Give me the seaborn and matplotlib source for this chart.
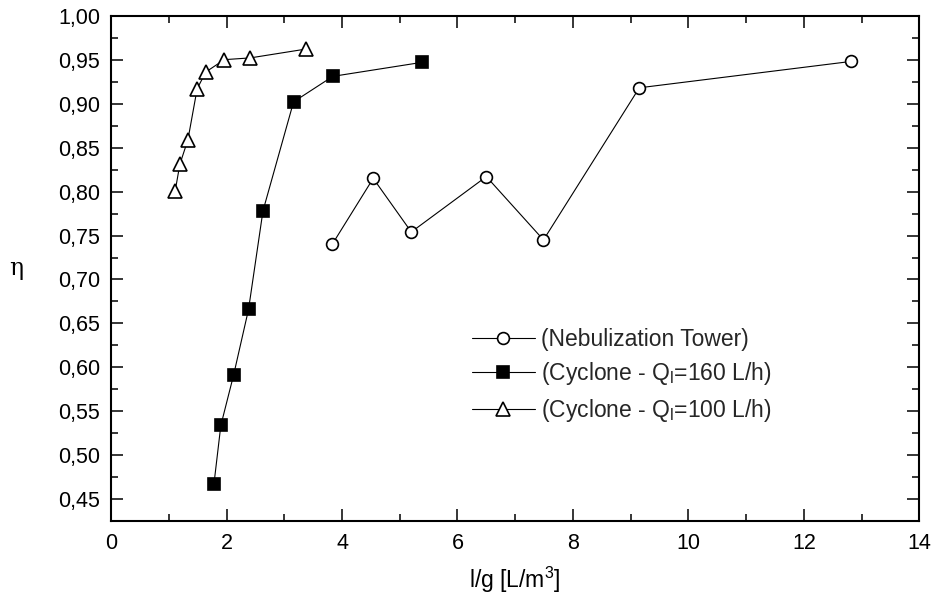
import numpy as np
import pandas as pd
import matplotlib
matplotlib.use("Agg")
import matplotlib.pyplot as plt
from matplotlib.ticker import MultipleLocator
import seaborn as sns

# data
tower_x = [3.83, 4.54, 5.20, 6.50, 7.49, 9.15, 12.82]
tower_y = [0.740, 0.815, 0.754, 0.817, 0.745, 0.918, 0.948]

cyc160_x = [1.78, 1.90, 2.12, 2.38, 2.63, 3.16, 3.84, 5.39]
cyc160_y = [0.467, 0.534, 0.591, 0.666, 0.778, 0.902, 0.931, 0.947]

cyc100_x = [1.11, 1.19, 1.33, 1.49, 1.64, 1.96, 2.41, 3.37]
cyc100_y = [0.801, 0.831, 0.859, 0.917, 0.936, 0.950, 0.952, 0.962]

labels = ["(Nebulization Tower)",
          r"(Cyclone - Q$_\mathregular{l}$=160 L/h)",
          r"(Cyclone - Q$_\mathregular{l}$=100 L/h)"]

x_ticks = [0, 2, 4, 6, 8, 10, 12, 14]
y_ticks = [0.45, 0.50, 0.55, 0.60, 0.65, 0.70, 0.75, 0.80, 0.85, 0.90, 0.95, 1.00]
y_tick_labels = [f"{v:.2f}".replace(".", ",") for v in y_ticks]

sns.set_theme(style="ticks")
plt.rcParams['font.family'] = ['Liberation Sans', 'DejaVu Sans']
plt.rcParams['mathtext.fontset'] = 'custom'
plt.rcParams['mathtext.rm'] = 'Liberation Sans'
plt.rcParams['mathtext.it'] = 'Liberation Sans:italic'

fig = plt.figure(figsize=(9.31, 6.06), dpi=100)
ax = fig.add_axes([0.1194, 0.1408, 0.8680, 0.8333])

series = [
    (tower_x, tower_y, "o", "white", 8.5),
    (cyc160_x, cyc160_y, "s", "black", 8.5),
    (cyc100_x, cyc100_y, "^", "white", 9.5),
]
for (xs, ys, mk, fc, ms), lab in zip(series, labels):
    df = pd.DataFrame({"x": xs, "y": ys})
    sns.lineplot(data=df, x="x", y="y", ax=ax, sort=False, estimator=None,
                 color="black", linewidth=0.8, marker=mk, markersize=ms,
                 markerfacecolor=fc, markeredgecolor="black",
                 markeredgewidth=1.2, label=lab)

ax.set_xlim(0, 14)
ax.set_ylim(0.4257, 1.0)
ax.set_xticks(x_ticks)
ax.set_xticklabels([str(v) for v in x_ticks])
ax.set_yticks(y_ticks)
ax.set_yticklabels(y_tick_labels)
ax.xaxis.set_minor_locator(MultipleLocator(1))
ax.yaxis.set_minor_locator(MultipleLocator(0.025))

ax.tick_params(which="both", direction="in", top=True, right=True,
               color="black", labelsize=15.5, labelcolor="black")
ax.tick_params(which="major", length=8.5, width=1.1)
ax.tick_params(which="minor", length=4.7, width=1.1)
ax.tick_params(axis="x", pad=9)
ax.tick_params(axis="y", pad=8)
for sp in ax.spines.values():
    sp.set_visible(True)
    sp.set_linewidth(1.5)
    sp.set_color("black")

ax.set_xlabel(r"l/g [L/m$^\mathregular{3}$]", fontsize=16.5, labelpad=8, color="black")
ax.set_ylabel("η", fontsize=17, rotation=0, color="black",
              family=['DejaVu Serif'], ha="center", va="center")
ax.yaxis.set_label_coords(-0.118, 0.5)

leg = ax.legend(loc="upper left", bbox_to_anchor=(0.446, 0.381), frameon=False,
                fontsize=16.5, handlelength=2.75, handletextpad=0.3,
                labelspacing=0.4, borderaxespad=0, borderpad=0, numpoints=1)

fig.savefig("out.png", dpi=100)
